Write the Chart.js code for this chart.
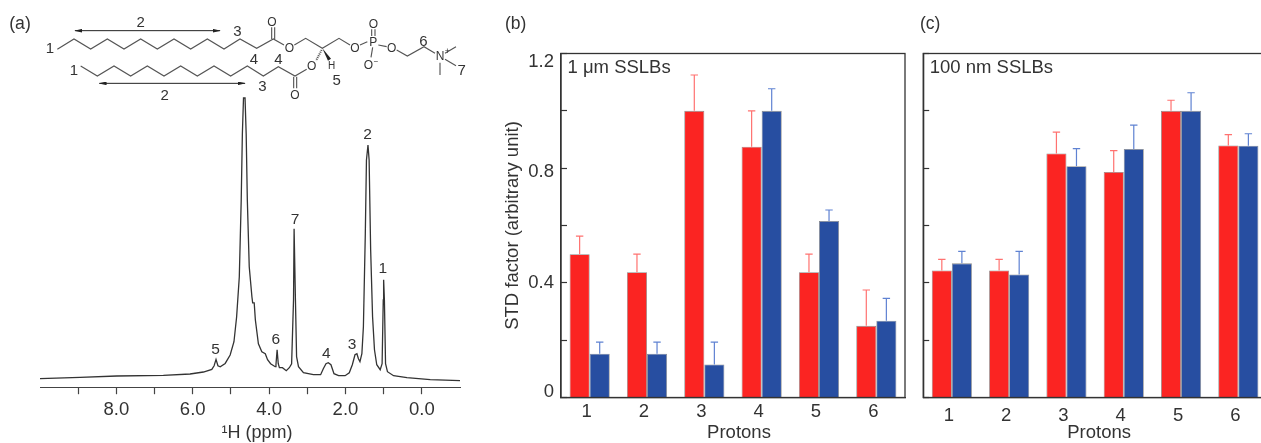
<!DOCTYPE html>
<html><head><meta charset="utf-8">
<script src="https://cdn.jsdelivr.net/npm/chart.js@4"></script>
<style>
html,body{margin:0;padding:0;background:#fff;width:1261px;height:443px;overflow:hidden}
canvas{position:absolute;top:0}
svg{position:absolute;left:0;top:0}
svg text{font-family:"Liberation Sans",Arial,sans-serif;fill:#333;text-anchor:middle;dominant-baseline:central}
</style></head><body>
<canvas id="a" width="490" height="443" style="left:0"></canvas>
<canvas id="b" width="410" height="443" style="left:500px"></canvas>
<canvas id="c" width="360" height="443" style="left:910px"></canvas>
<svg width="500" height="110" viewBox="0 0 1500 330">
<defs><marker id="ah" viewBox="0 0 10 10" refX="9" refY="5" markerWidth="24" markerHeight="11" markerUnits="userSpaceOnUse" orient="auto-start-reverse" preserveAspectRatio="none"><path d="M0 0L10 5L0 10Z" fill="#222"/></marker></defs>
<g style="stroke-width:3.4;stroke:#555;fill:none">
<polyline points="172,148 222,117 272,147 322,117 372,147 422,117 472,147 522,117 572,147 622,117 672,147 720,117 770,145 820,117 852,135"/>
<path d="M815,117V82M824,117V82"/>
<polyline points="883,135 917,115 967,145 1017,115 1050,135"/>
<path d="M1080,135L1102,125M1115,108V88M1125,108V88M1118,142L1113,172M1135,135L1160,140"/>
<polyline points="1190,150 1222,168 1272,140 1305,160"/>
<path d="M1335,160L1368,140M1335,178L1368,197M1320,188V225"/>
<polyline points="920,208 885,228 835,200 790,228 742,198 692,228 642,198 592,228 542,198 492,228 442,198 392,228 342,198 292,228 242,198"/>
<path d="M881,230V265M890,230V265"/>
<path d="M965,150L948,182" stroke-dasharray="3 3" stroke-width="6"/>
</g>
<path d="M967,145L984,182L993,176Z" fill="#222"/>
<g stroke="#222" stroke-width="3">
<line x1="225" y1="92" x2="660" y2="92" marker-start="url(#ah)" marker-end="url(#ah)"/>
<line x1="298" y1="250" x2="735" y2="250" marker-start="url(#ah)" marker-end="url(#ah)"/>
</g>
<g font-size="45">
<text x="60" y="70" font-size="53">(a)</text>
<text x="150" y="143">1</text><text x="222" y="208">1</text>
<text x="422" y="65">2</text><text x="712" y="92">3</text>
<text x="762" y="175">4</text><text x="835" y="175">4</text>
<text x="1010" y="238">5</text><text x="787" y="257">3</text>
<text x="494" y="283">2</text><text x="1270" y="120">6</text>
<text x="1385" y="207">7</text>
<text x="816" y="65" font-size="36">O</text><text x="868" y="143" font-size="36">O</text>
<text x="935" y="198" font-size="36">O</text><text x="885" y="285" font-size="36">O</text>
<text x="1065" y="143" font-size="36">O</text><text x="1120" y="125" font-size="36">P</text>
<text x="1120" y="72" font-size="36">O</text><text x="1105" y="195" font-size="36">O</text>
<text x="1128" y="185" font-size="24">−</text>
<text x="1175" y="143" font-size="36">O</text><text x="1320" y="168" font-size="36">N</text>
<text x="1342" y="153" font-size="26">+</text><text x="995" y="197" font-size="30">H</text>
</g></svg>
<script>
// Panel (a): 1H NMR spectrum
const ppmValues = [10,8.95,7.99,6.77,6.07,5.72,5.5,5.44,5.39,5.34,5.28,5.15,5.02,4.92,4.85,4.78,4.73,4.7,4.67,4.63,4.6,4.57,4.52,4.45,4.43,4.39,4.36,4.28,4.19,4.1,4.04,3.96,3.84,3.82,3.79,3.76,3.73,3.65,3.55,3.47,3.41,3.36,3.345,3.33,3.31,3.28,3.23,3.1,2.84,2.65,2.58,2.51,2.45,2.38,2.3,2.18,2.01,1.9,1.82,1.75,1.7,1.66,1.62,1.57,1.53,1.48,1.45,1.41,1.38,1.34,1.29,1.24,1.18,1.09,1.04,1.01,1,0.98,0.95,0.9,0.74,0.39,-0.22,-1];
const intensityValues = [9,10.3,11.7,12.3,13.7,15.7,18.3,22,28.3,22,21,24.3,32.7,46,71,111,188,254,290,290,254,188,121,91,85,85,68,44,36,34,28,24,21,23,38,24,20,20,17,20,24,88,159,159,88,31,21,15,13,13,19,24,25,23,14,12,12,15,23,33,34,29,26,34,61,154,228,243,228,138,71,38,23,18,24,88,108,88,24,16,12,10,8,7];
const peakLabels = ['5','6','7','4','3','2','1'];
const peakPpm = [5.4,3.825,3.32,2.5,1.83,1.42,1.02];
const peakLabelIntensity = [38.3,48.3,168,33.7,43.3,253,119];
const ppmTickLabels = ['8.0','6.0','4.0','2.0','0.0'];

// Panels (b) and (c): STD factors
const protons = ['1','2','3','4','5','6'];
const bRed = [0.50,0.437,1.0,0.875,0.437,0.25];
const bRedTop = [0.563,0.50,1.125,1.0,0.50,0.375];
const bBlue = [0.153,0.153,0.115,1.0,0.616,0.268];
const bBlueTop = [0.193,0.193,0.193,1.077,0.654,0.346];
const cRed = [0.443,0.443,0.851,0.787,1.0,0.879];
const cRedTop = [0.482,0.482,0.926,0.861,1.037,0.917];
const cBlue = [0.468,0.429,0.807,0.867,1.0,0.878];
const cBlueTop = [0.51,0.51,0.868,0.95,1.063,0.92];
const stdTickLabels = ['0','0.4','0.8','1.2'];

const FONT = '"Liberation Sans", Arial, sans-serif';
const INK = '#333';
const font = s => ({family: FONT, size: s, lineHeight: 1.1});

function shiftTitle(scale, dx){
  const orig = scale.drawTitle;
  scale.drawTitle = function(){ const c=this.ctx; c.save(); c.translate(dx,0); orig.call(this); c.restore(); };
}

const nmrLabels = {
  id:'nmrLabels',
  beforeDraw(chart){
    const s = chart.scales.x;
    if(!s._shifted){ s._shifted = true; shiftTitle(s,7); }
  },
  afterDatasetsDraw(chart){
    const {ctx,scales:{x,y}} = chart;
    ctx.save();
    ctx.font = '15.5px '+FONT; ctx.fillStyle = INK;
    ctx.textAlign='center'; ctx.textBaseline='middle';
    peakLabels.forEach((t,i)=>ctx.fillText(t,x.getPixelForValue(peakPpm[i]),y.getPixelForValue(peakLabelIntensity[i])));
    ctx.restore();
  }
};

new Chart(document.getElementById('a'),{
  type:'line',
  data:{datasets:[{data:ppmValues.map((p,i)=>({x:p,y:intensityValues[i]})),borderColor:'#333',borderWidth:1.3,pointRadius:0,tension:0,clip:false}]},
  options:{
    responsive:false,animation:false,devicePixelRatio:1,
    layout:{padding:{left:40,right:30,top:98,bottom:0}},
    plugins:{legend:{display:false},tooltip:{enabled:false}},
    scales:{
      x:{type:'linear',reverse:true,min:-1,max:10,
        afterFit(s){s.height=443-387.7;},
        grid:{drawOnChartArea:false,tickLength:6.5,color:'#444',tickWidth:1.2},
        border:{color:'#444',width:1},
        ticks:{stepSize:1,maxRotation:0,autoSkip:false,padding:6,color:INK,font:font(18.5),
          callback(v){ if(v===-1||v===10) return null; const l=v.toFixed(1); return ppmTickLabels.includes(l)?l:''; }},
        title:{display:true,text:'¹H (ppm)',color:INK,font:font(18),padding:{top:3,bottom:0}}
      },
      y:{display:false,min:0,max:290}
    }
  },
  plugins:[nmrLabels]
});

function stdPanel(id,reds,redTops,blues,blueTops,caption,cfg){
  const overlay = {
    id:'overlay',
    beforeDraw(chart){
      const y = chart.scales.y, x = chart.scales.x;
      if(!x._shifted){
        x._shifted = true; shiftTitle(x,cfg.titleDx);
        y.getLabelItems(chart.chartArea).forEach(it=>{
          const d = {'1.2':8.5,'0.8':3.7,'0':-6}[it.label];
          if(d) it.options.translation[1]+=d;
        });
      }
    },
    afterDatasetsDraw(chart){
      const {ctx,chartArea:a,scales:{y}} = chart;
      ctx.save();
      const tops=[redTops,blueTops], cols=['#ff7270','#5f82d2'];
      tops.forEach((arr,d)=>{
        chart.getDatasetMeta(d).data.forEach((bar,i)=>{
          const yt=y.getPixelForValue(arr[i]);
          ctx.strokeStyle=cols[d]; ctx.lineWidth=1.2;
          ctx.beginPath();
          ctx.moveTo(bar.x,bar.y); ctx.lineTo(bar.x,yt);
          ctx.moveTo(bar.x-3.7,yt); ctx.lineTo(bar.x+3.7,yt);
          ctx.stroke();
        });
      });
      ctx.strokeStyle='#333'; ctx.lineWidth=1.3;
      ctx.strokeRect(a.left,a.top,a.right-a.left,a.bottom-a.top);
      ctx.font='18.5px '+FONT; ctx.fillStyle=INK; ctx.textAlign='left'; ctx.textBaseline='middle';
      ctx.fillText(caption,a.left+6.5,68);
      ctx.restore();
    }
  };
  const edge='rgba(90,90,90,0.7)';
  new Chart(document.getElementById(id),{
    type:'bar',
    data:{labels:protons,datasets:[
      {data:reds,backgroundColor:'#fb2422',borderColor:edge,borderWidth:0.8},
      {data:blues,backgroundColor:'#274ea1',borderColor:edge,borderWidth:0.8}]},
    options:{
      responsive:false,animation:false,devicePixelRatio:1,
      layout:{padding:{left:0,right:cfg.right,top:53.5,bottom:0}},
      plugins:{legend:{display:false},tooltip:{enabled:false}},
      datasets:{bar:{categoryPercentage:0.7,barPercentage:1}},
      scales:{
        x:{type:'category',afterFit(s){s.height=443-397.5;},
          grid:{display:false,drawTicks:false},border:{color:'#333',width:1.3},
          ticks:{maxRotation:0,padding:cfg.xPad,color:INK,font:font(18.5),labelOffset:-3},
          title:{display:true,text:'Protons',color:INK,font:font(18.5),padding:{top:0,bottom:0}}},
        y:{min:0,max:1.2,afterFit(s){s.width=cfg.yWidth;},
          grid:{drawOnChartArea:false,tickLength:-6,color:'#333',tickWidth:1.2},
          border:{color:'#333',width:1.3},
          ticks:{stepSize:0.2,padding:13,color:INK,font:font(18.5),autoSkip:false,
            callback(v){ const l=String(Math.round(v*10)/10); return cfg.labels.includes(l)?l:''; }},
          title:{display:cfg.yTitle,text:'STD factor (arbitrary unit)',color:INK,font:font(18.5),padding:{top:3,bottom:0}}}
      }
    },
    plugins:[overlay]
  });
}
stdPanel('b',bRed,bRedTop,bBlue,bBlueTop,'1 μm SSLBs',{right:5,yWidth:61,labels:stdTickLabels,yTitle:true,xPad:4,titleDx:6});
stdPanel('c',cRed,cRedTop,cBlue,cBlueTop,'100 nm SSLBs',{right:3,yWidth:13.2,labels:[],yTitle:false,xPad:8,titleDx:4});
</script>
<div style="position:absolute;left:505px;top:13px;font:17.5px 'Liberation Sans';color:#333">(b)</div>
<div style="position:absolute;left:920px;top:13px;font:17.5px 'Liberation Sans';color:#333">(c)</div>
</body></html>
